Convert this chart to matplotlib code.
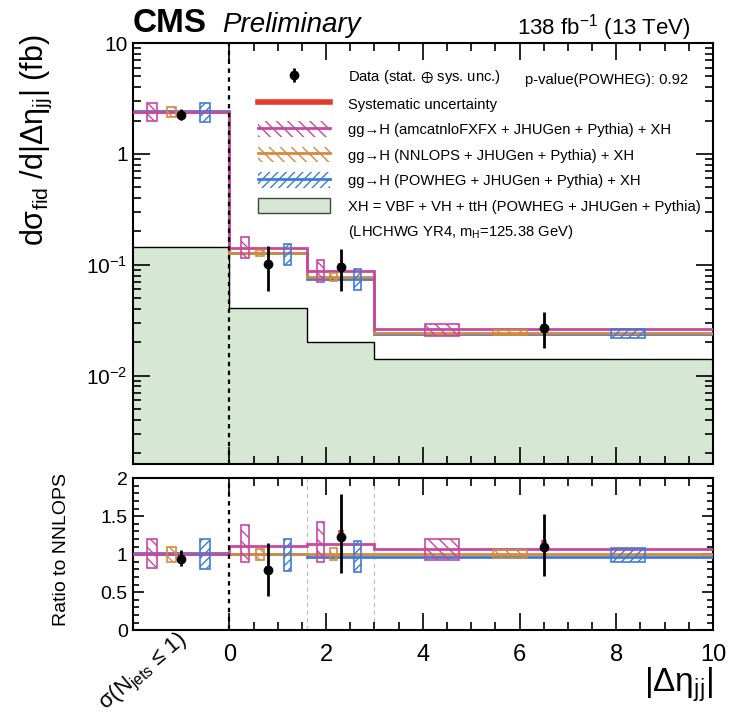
import numpy as np
import matplotlib
matplotlib.use("Agg")
import matplotlib.pyplot as plt
from matplotlib.patches import Patch
from matplotlib.lines import Line2D

plt.rcParams['font.family'] = ['Liberation Sans', 'DejaVu Sans']
plt.rcParams['mathtext.fontset'] = 'custom'
plt.rcParams['mathtext.rm'] = 'Liberation Sans'
plt.rcParams['mathtext.it'] = 'Liberation Sans:italic'
plt.rcParams['mathtext.bf'] = 'Liberation Sans:bold'
plt.rcParams['mathtext.fallback'] = 'stixsans'
plt.rcParams['hatch.linewidth'] = 1.0

# ---- data ----
edges = np.array([-2.0, 0.0, 1.6, 3.0, 10.0])

# NNLOPS nominal prediction (fb)
nnlops = np.array([2.40, 0.128, 0.078, 0.0245])
# other predictions, as ratio to NNLOPS
ratio_amc = np.array([1.0, 1.105, 1.13, 1.065])
ratio_pow = np.array([1.01, 1.0, 0.96, 0.97])

# prediction uncertainty boxes (ratio to NNLOPS)
amc_lo = np.array([0.82, 0.90, 0.90, 0.93])
amc_hi = np.array([1.20, 1.38, 1.42, 1.20])
nnl_lo = np.array([0.90, 0.93, 0.92, 0.95])
nnl_hi = np.array([1.10, 1.07, 1.08, 1.05])
pow_lo = np.array([0.80, 0.78, 0.76, 0.90])
pow_hi = np.array([1.20, 1.20, 1.18, 1.08])

# XH = VBF + VH + ttH (fb)
xh = np.array([0.145, 0.041, 0.020, 0.014])

# measured data (fb)
data = np.array([2.25, 0.101, 0.096, 0.0267])
data_lo = np.array([2.02, 0.058, 0.0585, 0.0176])
data_hi = np.array([2.52, 0.147, 0.140, 0.0375])
syst_lo = np.array([2.19, 0.095, 0.092, 0.0257])
syst_hi = np.array([2.31, 0.108, 0.103, 0.0290])

c_amc = '#c8479f'
c_nnl = '#d4893e'
c_pow = '#3f7bd6'
c_red = '#e8392a'
c_green = '#d6e8d4'

widths = np.diff(edges)
lefts = edges[:-1]
# box positions inside each bin (fraction of bin width)
x_amc = lefts + 0.2 * widths
x_nnl = lefts + 0.4 * widths
x_dat = lefts + 0.5 * widths
x_pow = lefts + 0.75 * widths
bw = 0.1 * widths

fig = plt.figure(figsize=(7.29, 7.17), dpi=100)
ax = fig.add_axes([0.182, 0.353, 0.796, 0.587])
rx = fig.add_axes([0.182, 0.121, 0.796, 0.212])

# ---- top panel ----
ax.stairs(xh, edges, fill=True, color=c_green, baseline=1e-4, zorder=1)
ax.stairs(xh, edges, color='black', lw=1.0, baseline=None, zorder=2)

ax.stairs(nnlops * ratio_pow, edges, color=c_pow, lw=2, baseline=None, zorder=3)
ax.stairs(nnlops, edges, color=c_nnl, lw=2, baseline=None, zorder=3)
ax.stairs(nnlops * ratio_amc, edges, color=c_amc, lw=2, baseline=None, zorder=3)

for xs, lo, hi, c, h in [(x_amc, amc_lo, amc_hi, c_amc, '\\\\\\'),
                         (x_nnl, nnl_lo, nnl_hi, c_nnl, '\\\\\\'),
                         (x_pow, pow_lo, pow_hi, c_pow, '////')]:
    ax.bar(xs, nnlops * (hi - lo), bottom=nnlops * lo, width=bw, fill=False,
           edgecolor=c, hatch=h, lw=1.2, zorder=4)
    rx.bar(xs, hi - lo, bottom=lo, width=bw, fill=False,
           edgecolor=c, hatch=h, lw=1.2, zorder=4)

ax.vlines(x_dat, syst_lo, syst_hi, color=c_red, lw=4, zorder=5)
eb = ax.errorbar(x_dat, data, yerr=[data - data_lo, data_hi - data], fmt='o',
                 color='black', ms=6, elinewidth=2, capsize=0, zorder=6)

ax.axvline(0, color='black', lw=1.6, ls=(0, (2, 2)), zorder=7)

ax.set_xlim(-2, 10)
ax.set_yscale('log')
ax.set_ylim(1.6e-3, 10)
ax.set_yticks([1e-2, 1e-1, 1, 10])
ax.set_yticklabels(['$10^{-2}$', '$10^{-1}$', '1', '10'])
ax.set_xticks([0, 2, 4, 6, 8, 10])
ax.set_xticks(np.arange(0.5, 10, 0.5), minor=True)
ax.tick_params(axis='x', labelbottom=False)
ax.tick_params(which='both', direction='in', top=True, right=True, width=1.2)
ax.tick_params(which='major', length=12, labelsize=15)
ax.tick_params(which='minor', length=6)
for s in ax.spines.values():
    s.set_linewidth(1.5)

# legend
h_data = eb
h_syst = Line2D([], [], color=c_red, lw=4)
h_amc = (Patch(fill=False, edgecolor=c_amc, hatch='\\\\\\', lw=0), Line2D([], [], color=c_amc, lw=2))
h_nnl = (Patch(fill=False, edgecolor=c_nnl, hatch='\\\\\\', lw=0), Line2D([], [], color=c_nnl, lw=2))
h_pow = (Patch(fill=False, edgecolor=c_pow, hatch='////', lw=0), Line2D([], [], color=c_pow, lw=2))
h_xh = Patch(facecolor=c_green, edgecolor='#444444', lw=1)
h_none = Patch(alpha=0)
labels = ['Data (stat. $\\oplus$ sys. unc.)',
          'Systematic uncertainty',
          'gg\u2192H (amcatnloFXFX + JHUGen + Pythia) + XH',
          'gg\u2192H (NNLOPS + JHUGen + Pythia) + XH',
          'gg\u2192H (POWHEG + JHUGen + Pythia) + XH',
          'XH = VBF + VH + ttH (POWHEG + JHUGen + Pythia)',
          '(LHCHWG YR4, m$_{\\rm H}$=125.38 GeV)']
ax.legend([h_data, h_syst, h_amc, h_nnl, h_pow, h_xh, h_none], labels,
          loc='upper left', bbox_to_anchor=(0.216, 0.94), frameon=False,
          fontsize=10.6, handlelength=4.9, handleheight=1.25, labelspacing=0.66,
          handletextpad=1.2, borderpad=0, borderaxespad=0)
ax.text(0.676, 0.912, 'p-value(POWHEG): 0.92', transform=ax.transAxes,
        fontsize=10.6, va='center')

# ---- ratio panel ----
rx.stairs(ratio_pow, edges, color=c_pow, lw=2, baseline=None, zorder=3)
rx.stairs(np.ones_like(nnlops), edges, color=c_nnl, lw=2, baseline=None, zorder=3)
rx.stairs(ratio_amc, edges, color=c_amc, lw=2, baseline=None, zorder=3)

rx.vlines(x_dat, syst_lo / nnlops, syst_hi / nnlops, color=c_red, lw=4, zorder=5)
r = data / nnlops
rx.errorbar(x_dat, r, yerr=[r - data_lo / nnlops, data_hi / nnlops - r], fmt='o',
            color='black', ms=6, elinewidth=2, capsize=0, zorder=6)
rx.axvline(0, color='black', lw=1.6, ls=(0, (2, 2)), zorder=7)
for e in edges[2:-1]:
    rx.axvline(e, color='#bbbbbb', lw=0.8, ls=(0, (4, 3)), zorder=1)

rx.set_xlim(-2, 10)
rx.set_ylim(0, 2)
rx.set_yticks([0, 0.5, 1, 1.5, 2])
rx.set_yticklabels(['0', '0.5', '1', '1.5', '2'])
rx.set_yticks(np.arange(0.1, 2, 0.1), minor=True)
rx.set_xticks([0, 2, 4, 6, 8, 10])
rx.set_xticks(np.arange(0.5, 10, 0.5), minor=True)
rx.tick_params(which='both', direction='in', top=True, right=True, width=1.2)
rx.tick_params(which='major', length=12)
rx.tick_params(which='minor', length=6)
rx.tick_params(axis='y', which='major', length=8, labelsize=14)
rx.tick_params(axis='y', which='minor', length=4)
rx.tick_params(axis='x', labelsize=17, pad=10)
for s in rx.spines.values():
    s.set_linewidth(1.5)

# ---- labels ----
fig.text(0.182, 0.955, 'CMS', fontsize=24, fontweight='bold', va='baseline')
fig.text(0.305, 0.955, 'Preliminary', fontsize=20, fontstyle='italic', va='baseline')
fig.text(0.948, 0.952, '138 fb$^{-1}$ (13 TeV)', fontsize=16, ha='right', va='baseline')
fig.text(0.05, 0.805, 'd$\\mathrm{\u03c3}_{\\rm fid}$ /d|$\\mathrm{\u0394\u03b7}_{\\rm jj}$| (fb)',
         fontsize=22, rotation=90, ha='center', va='center')
fig.text(0.085, 0.233, 'Ratio to NNLOPS', fontsize=14, rotation=90, ha='center', va='center')
fig.text(0.978, 0.035, '|$\\mathrm{\u0394\u03b7}_{\\rm jj}$|', fontsize=24, ha='right', va='baseline')
fig.text(0.197, 0.062, '\u03c3(N$_{\\rm jets}$ \u2264 1)', fontsize=16, rotation=40,
         ha='center', va='center')

fig.savefig('out.png', dpi=100)
